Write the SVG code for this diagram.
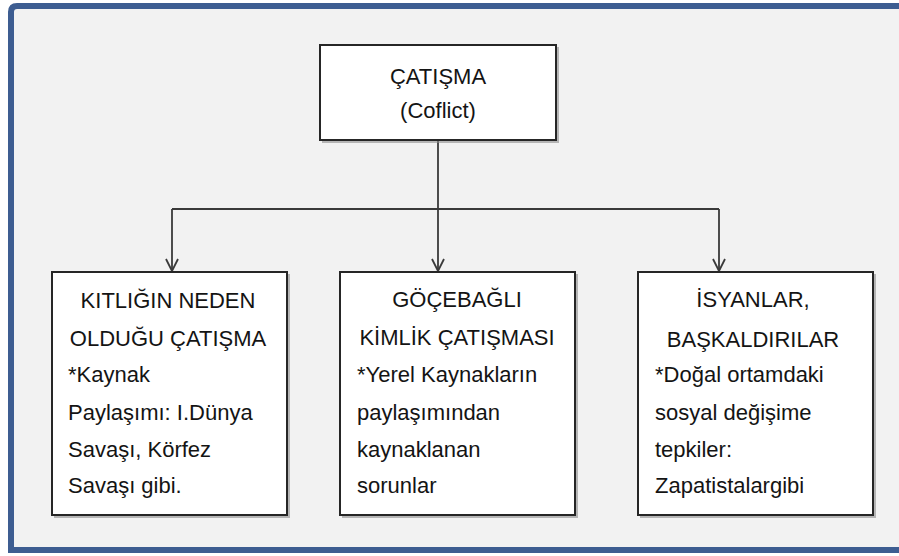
<svg xmlns="http://www.w3.org/2000/svg" width="899" height="556" viewBox="0 0 899 556">
<defs>
<style>
.frame{fill:#f2f2f2;stroke:#3d5d91;stroke-width:6}
.box{fill:#ffffff;stroke:#262626;stroke-width:2}
.shadow{fill:none;stroke:#8c8c8c;stroke-width:2;opacity:0.6}
.conn{fill:none;stroke:#3a3a3a;stroke-width:1.8}
text{font-family:"Liberation Sans",Arial,sans-serif;font-size:22px;fill:#141414}
.c{text-anchor:middle}
</style>
<marker id="arr" markerWidth="16" markerHeight="16" viewBox="-14 -8 16 16" refX="0" refY="0" orient="auto" markerUnits="userSpaceOnUse">
<path d="M-12,-6 L0,0 L-12,6" fill="none" stroke="#3a3a3a" stroke-width="1.8"/>
</marker>
</defs>
<rect x="0" y="0" width="899" height="556" fill="#ffffff"/>
<path class="frame" d="M905,6 L17,6 Q11,6 11,12 L11,550 L905,550"/>
<g id="connectors">
<line class="conn" x1="438" y1="141" x2="438" y2="271" marker-end="url(#arr)"/>
<line class="conn" x1="172" y1="209" x2="719" y2="209"/>
<line class="conn" x1="172" y1="209" x2="172" y2="271" marker-end="url(#arr)"/>
<line class="conn" x1="719" y1="209" x2="719" y2="271" marker-end="url(#arr)"/>
</g>
<g id="root">
<path class="shadow" d="M322,142 L558,142 L558,47"/>
<rect class="box" x="320" y="45" width="236" height="95"/>
<text class="c" x="438" y="84">ÇATIŞMA</text>
<text class="c" x="438" y="118">(Coflict)</text>
</g>
<g id="kitlik">
<path class="shadow" d="M54,517 L289,517 L289,274"/>
<rect class="box" x="52" y="272" width="235" height="243"/>
<text class="c" x="168" y="308">KITLIĞIN NEDEN</text>
<text class="c" x="168" y="346">OLDUĞU ÇATIŞMA</text>
<text x="68" y="382">*Kaynak</text>
<text x="68" y="420">Paylaşımı: I.Dünya</text>
<text x="68" y="457">Savaşı, Körfez</text>
<text x="68" y="493">Savaşı gibi.</text>
</g>
<g id="gocebagli">
<path class="shadow" d="M342,517 L577,517 L577,274"/>
<rect class="box" x="340" y="272" width="235" height="243"/>
<text class="c" x="457" y="307">GÖÇEBAĞLI</text>
<text class="c" x="457" y="345">KİMLİK ÇATIŞMASI</text>
<text x="357" y="382">*Yerel Kaynakların</text>
<text x="357" y="420">paylaşımından</text>
<text x="357" y="457">kaynaklanan</text>
<text x="357" y="493">sorunlar</text>
</g>
<g id="isyanlar">
<path class="shadow" d="M640,517 L875,517 L875,274"/>
<rect class="box" x="638" y="272" width="235" height="243"/>
<text class="c" x="753" y="307">İSYANLAR,</text>
<text class="c" x="753" y="347">BAŞKALDIRILAR</text>
<text x="655" y="382">*Doğal ortamdaki</text>
<text x="655" y="420">sosyal değişime</text>
<text x="655" y="457">tepkiler:</text>
<text x="655" y="493">Zapatistalargibi</text>
</g>
</svg>
